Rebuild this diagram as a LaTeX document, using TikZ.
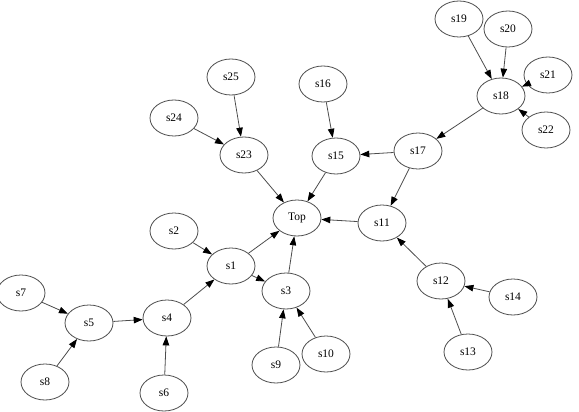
\documentclass[tikz,border=0pt]{standalone}
\usepackage{fontspec}
\setmainfont{Liberation Serif}
\usetikzlibrary{arrows.meta,shapes.geometric}
\begin{document}
\begin{tikzpicture}[x=1pt,y=-1pt,
  nd/.style={ellipse,draw=black!70,line width=0.8pt,minimum width=48pt,minimum height=36pt,inner sep=0pt,font=\fontsize{11.5}{12}\selectfont},
  ed/.style={draw=black!70,line width=0.8pt,-{Triangle[length=9pt,width=6.5pt,color=black]}}]
\useasboundingbox (0,0) rectangle (579,412);
\node[nd] (Top) at (297,218) {Top};
\node[nd] (s1) at (231,266) {s1};
\node[nd] (s2) at (174,231) {s2};
\node[nd] (s3) at (286,291) {s3};
\node[nd] (s4) at (167,318) {s4};
\node[nd] (s5) at (89,323) {s5};
\node[nd] (s6) at (164,393) {s6};
\node[nd] (s7) at (21,293) {s7};
\node[nd] (s8) at (45,382) {s8};
\node[nd] (s9) at (276,365) {s9};
\node[nd] (s10) at (326,354) {s10};
\node[nd] (s11) at (382,223) {s11};
\node[nd] (s12) at (441,281) {s12};
\node[nd] (s13) at (468,352) {s13};
\node[nd] (s14) at (513,297) {s14};
\node[nd] (s15) at (336,156) {s15};
\node[nd] (s16) at (323,84) {s16};
\node[nd] (s17) at (418,151) {s17};
\node[nd] (s18) at (501,96) {s18};
\node[nd] (s19) at (459,19) {s19};
\node[nd] (s20) at (508,29) {s20};
\node[nd] (s21) at (548,75) {s21};
\node[nd] (s22) at (546,130) {s22};
\node[nd] (s23) at (244,155) {s23};
\node[nd] (s24) at (174,118) {s24};
\node[nd] (s25) at (231,77) {s25};
\foreach \a/\b in {s2/s1,s4/s1,s1/Top,s1/s3,s3/Top,s9/s3,s10/s3,s23/Top,s24/s23,s25/s23,s15/Top,s16/s15,s17/s15,s11/Top,s17/s11,s18/s17,s19/s18,s20/s18,s21/s18,s22/s18,s12/s11,s14/s12,s13/s12,s5/s4,s6/s4,s7/s5,s8/s5}
  \draw[ed] (\a) -- (\b);
\end{tikzpicture}
\end{document}
